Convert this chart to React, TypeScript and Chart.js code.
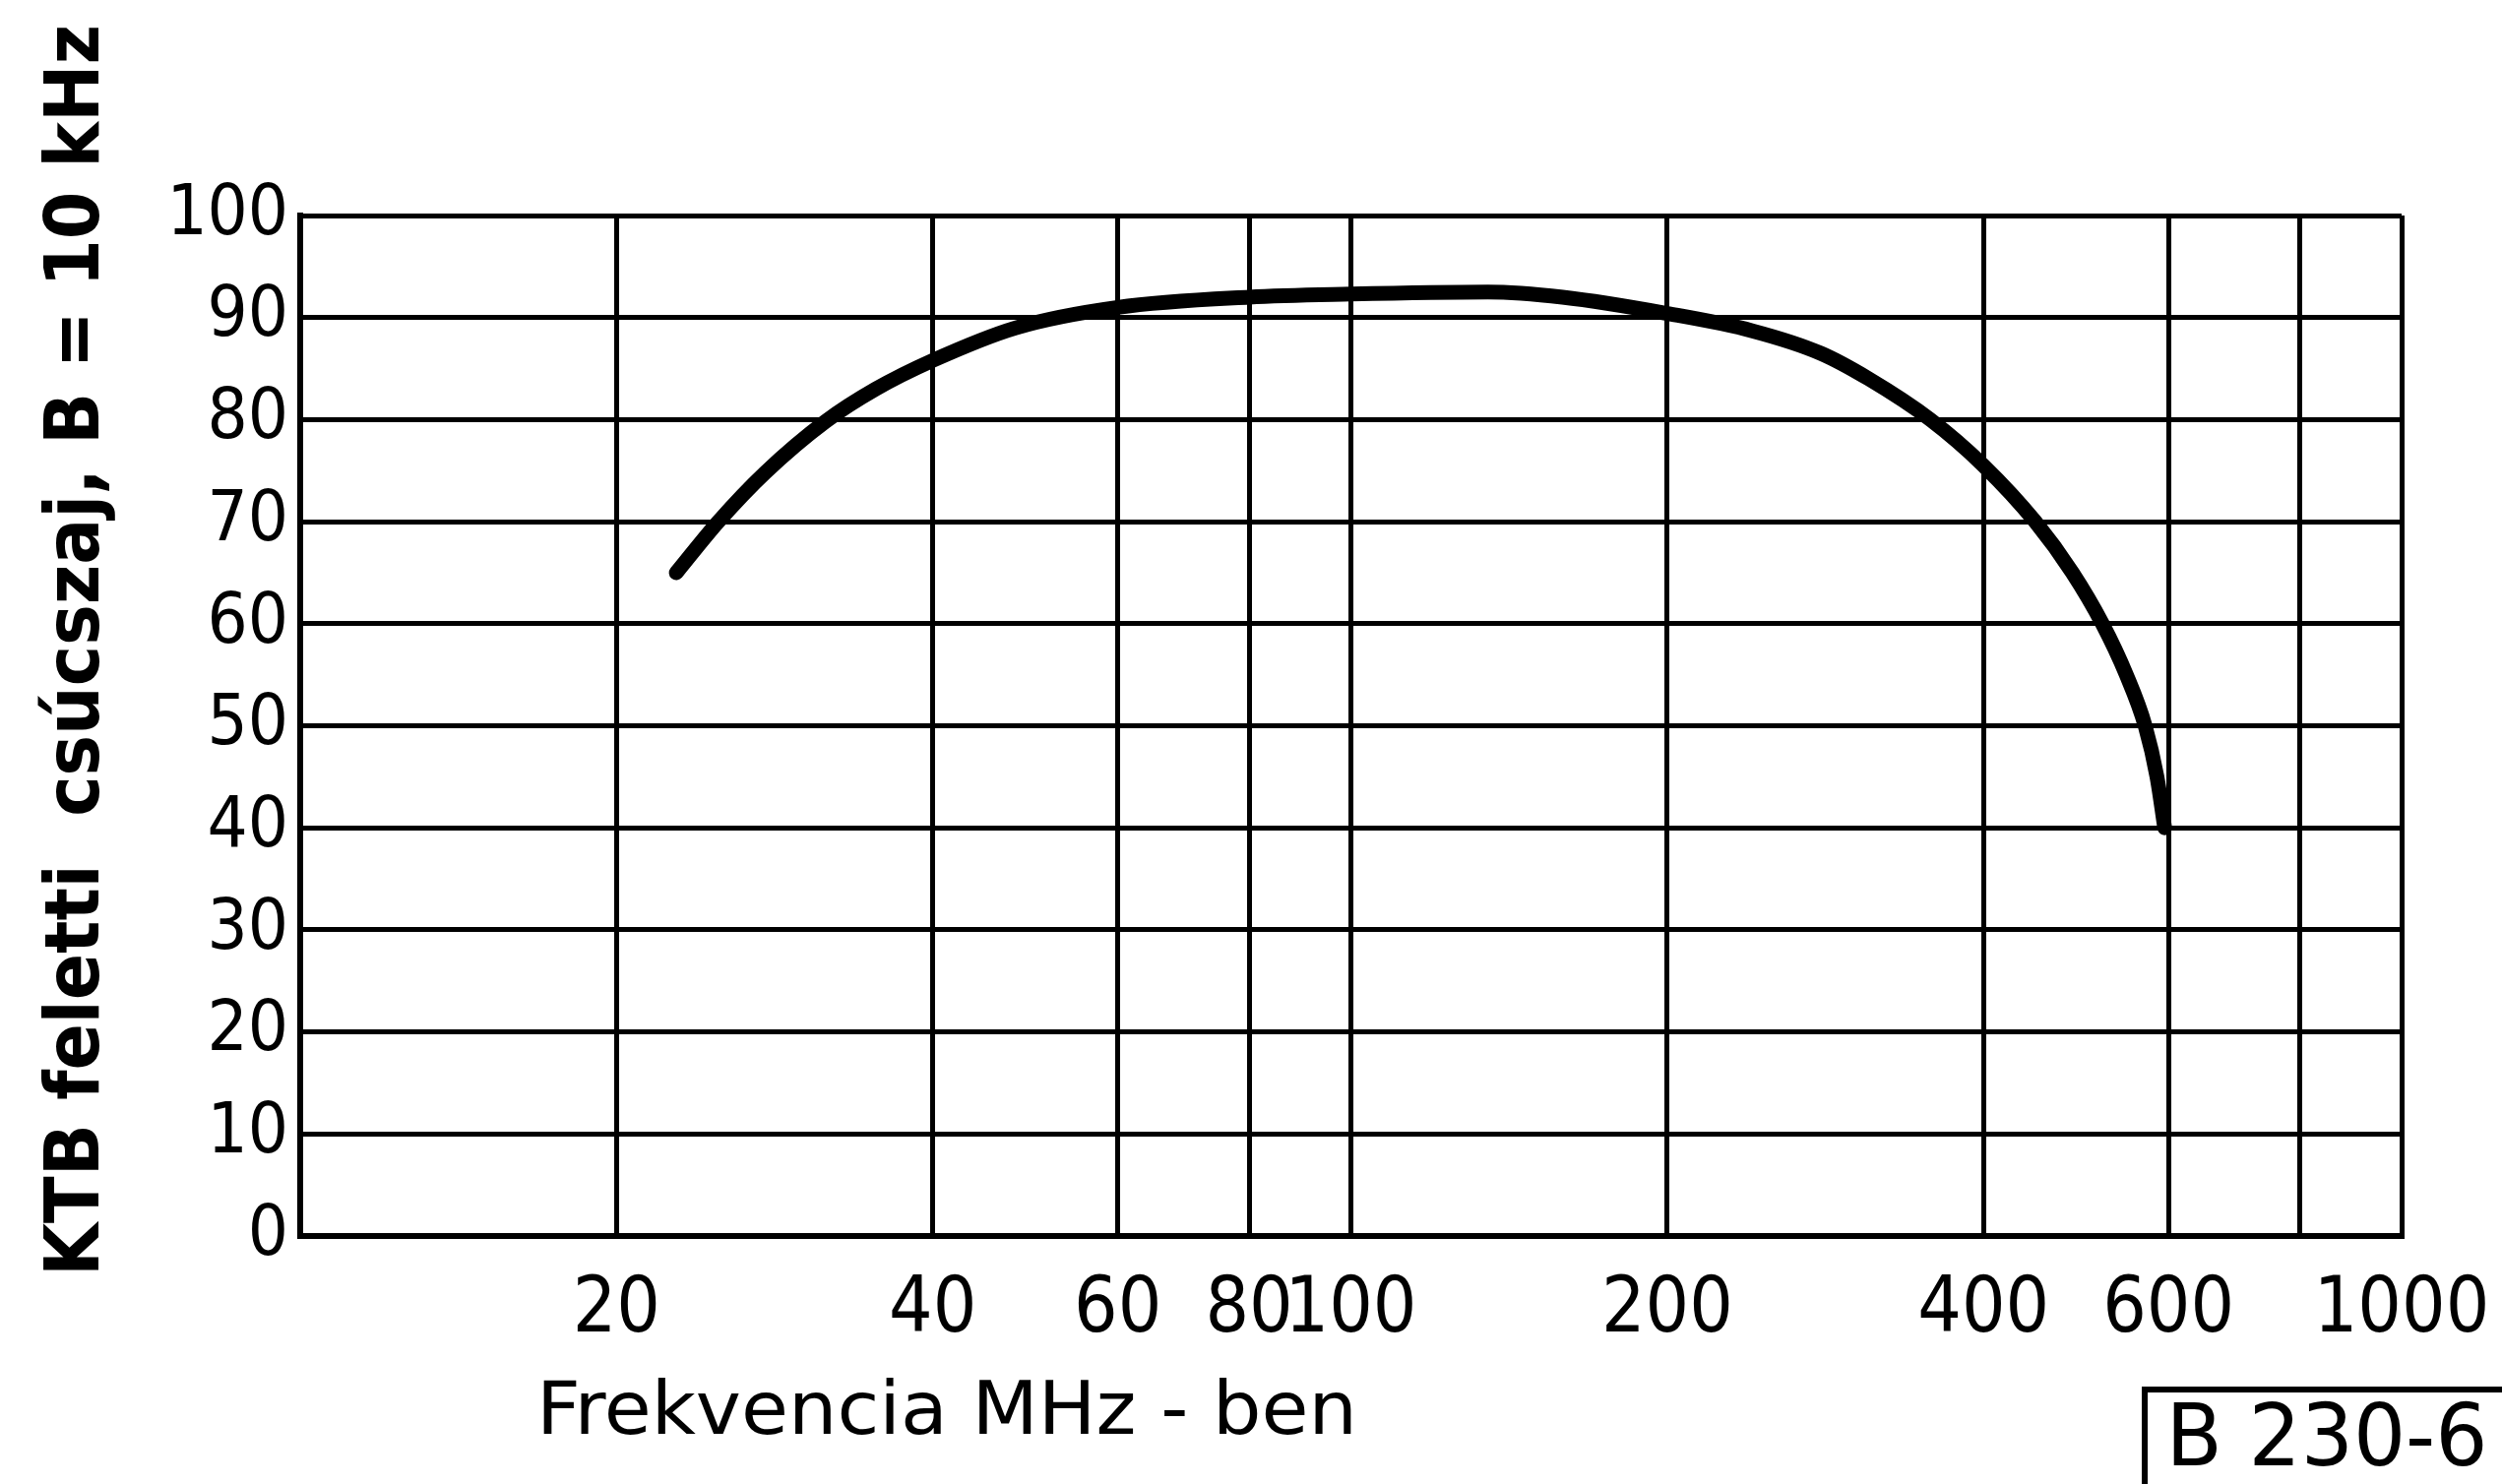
import { useEffect, useRef } from "react";
import { Chart, registerables } from "chart.js";

Chart.register(...registerables);

// Frequency (MHz) of curve points
const frequenciesMHz = [22.8, 25, 27.7, 31.6, 35.3, 40, 48, 60, 80, 100, 135, 159, 200, 241, 280, 311, 356, 400, 448, 486, 519, 547, 570, 585, 595];
// Peak noise above KTB values
const noiseValues = [65.0, 70.0, 74.8, 79.8, 83, 85.8, 89, 91, 92, 92.3, 92.5, 92.0, 90.4, 88.7, 86.5, 84.0, 80, 75.5, 70, 65, 60, 55, 50, 45, 40];

const xTickValues = [10, 20, 40, 60, 80, 100, 200, 400, 600, 800, 1000];
const xTickLabels = ["", "20", "40", "60", "80", "100", "200", "400", "600", "", "1000"];
const yTickValues = [0, 10, 20, 30, 40, 50, 60, 70, 80, 90, 100];

const yTitle = "KTB feletti  csúcszaj, B = 10 kHz";
const xTitle = "Frekvencia MHz - ben";
const figureLabel = "B 230-6";

const COND = "'DejaVu Sans Condensed', 'Liberation Sans Narrow', 'DejaVu Sans', sans-serif";

function fitText(ctx: CanvasRenderingContext2D, text: string, cx: number, cy: number, targetW: number, rotate: number) {
  const w = ctx.measureText(text).width;
  ctx.save();
  ctx.translate(cx, cy);
  ctx.rotate(rotate);
  ctx.scale(targetW / w, 1);
  ctx.textAlign = "center";
  ctx.textBaseline = "middle";
  ctx.fillText(text, 0, 0);
  ctx.restore();
}

const textPlugin = {
  id: "extraTexts",
  afterDraw(chart: any) {
    const ctx: CanvasRenderingContext2D = chart.ctx;
    ctx.save();
    ctx.fillStyle = "#000";
    ctx.strokeStyle = "#000";
    // y title
    ctx.font = `bold 76px ${COND}`;
    fitText(ctx, yTitle, 80, 661, 1272, -Math.PI / 2);
    // x title
    ctx.font = `normal 74px ${COND}`;
    fitText(ctx, xTitle, 962, 1438, 834, 0);
    // figure label box
    ctx.lineWidth = 6;
    ctx.strokeRect(2179, 1412, 400, 200);
    ctx.font = `normal 88px ${COND}`;
    fitText(ctx, figureLabel, 2364, 1466, 327, 0);
    ctx.restore();
  },
};

export default function App() {
  const ref = useRef<HTMLCanvasElement | null>(null);
  useEffect(() => {
    if (!ref.current) return;
    const chart = new Chart(ref.current, {
      type: "line",
      data: {
        datasets: [
          {
            data: frequenciesMHz.map((f, i) => ({ x: f, y: noiseValues[i] })),
            borderColor: "#000",
            borderWidth: 15,
            pointRadius: 0,
            cubicInterpolationMode: "monotone",
            borderCapStyle: "round",
            borderJoinStyle: "round",
            fill: false,
          },
        ],
      },
      options: {
        responsive: false,
        animation: false,
        layout: { padding: { top: 219, right: 102, left: 0, bottom: 0 } },
        plugins: { legend: { display: false }, tooltip: { enabled: false } },
        scales: {
          x: {
            type: "logarithmic",
            min: 10,
            max: 1000,
            afterBuildTicks: (scale: any) => {
              scale.ticks = xTickValues.map((v) => ({ value: v }));
            },
            afterFit: (scale: any) => {
              scale.height = 252;
              scale.paddingRight = 0;
              scale.paddingLeft = 0;
            },
            grid: { color: "#000", lineWidth: 5, drawTicks: false },
            border: { display: true, color: "#000", width: 6 },
            ticks: {
              color: "#000",
              padding: 30,
              maxRotation: 0,
              autoSkip: false,
              font: { family: COND, size: 78 },
              callback: (v: any) => {
                const i = xTickValues.indexOf(Number(v));
                return i >= 0 ? xTickLabels[i] : "";
              },
            },
          },
          y: {
            type: "linear",
            min: 0,
            max: 100,
            afterBuildTicks: (scale: any) => {
              scale.ticks = yTickValues.map((v) => ({ value: v }));
            },
            afterFit: (scale: any) => {
              scale.width = 305;
              scale.paddingTop = 0;
              scale.paddingBottom = 0;
            },
            grid: { color: "#000", lineWidth: 5, drawTicks: false },
            border: { display: true, color: "#000", width: 6 },
            ticks: {
              color: "#000",
              padding: 12,
              font: { family: COND, size: 72 },
            },
          },
        },
      },
      plugins: [textPlugin],
    } as any);
    return () => chart.destroy();
  }, []);
  return (
    <canvas
      ref={ref}
      width={2542}
      height={1508}
      style={{ position: "absolute", left: 0, top: 0, width: 2542, height: 1508, display: "block", background: "#fff" }}
    />
  );
}
